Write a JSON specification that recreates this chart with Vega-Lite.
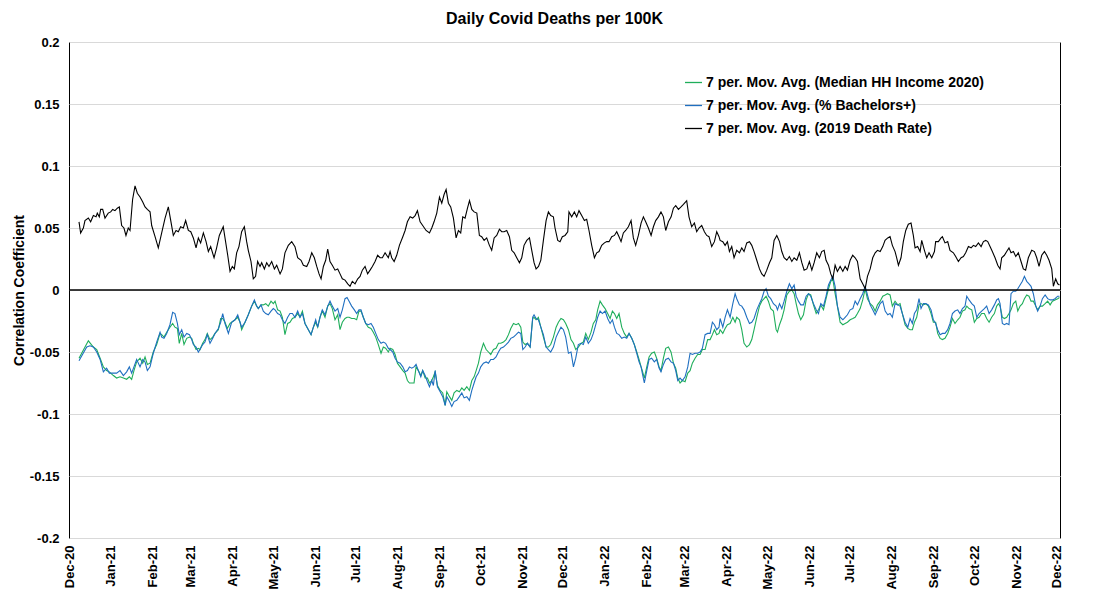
{
"$schema": "https://vega.github.io/schema/vega-lite/v6.json",
"width": 991, "height": 496,
"autosize": {"type": "none"},
"padding": {"left": 69, "top": 42, "right": 51, "bottom": 56},
"background": "white",
"title": {"text": "Daily Covid Deaths per 100K", "fontSize": 16, "fontWeight": "bold", "font": "Liberation Sans", "color": "black", "offset": 9, "dx": -10, "frame": "group"},
"config": {
 "font": "Liberation Sans",
 "view": {"stroke": "black", "strokeWidth": 1},
 "axis": {"labelFont": "Liberation Sans", "labelFontWeight": "bold", "labelFontSize": 13, "labelColor": "black", "titleFont": "Liberation Sans", "titleFontWeight": "bold", "titleFontSize": 14, "titleColor": "black", "domain": false, "ticks": false}
},
"datasets": {
"income": [{"day":7.4,"r":-0.055},{"day":14.3,"r":-0.041},{"day":18,"r":-0.046},{"day":20.5,"r":-0.048},{"day":23,"r":-0.055},{"day":25.4,"r":-0.062},{"day":27.8,"r":-0.065},{"day":29.8,"r":-0.066},{"day":32.8,"r":-0.069},{"day":35.2,"r":-0.071},{"day":37.7,"r":-0.07},{"day":40.2,"r":-0.071},{"day":42.6,"r":-0.072},{"day":44.6,"r":-0.07},{"day":46.3,"r":-0.072},{"day":48,"r":-0.065},{"day":50,"r":-0.058},{"day":52.5,"r":-0.055},{"day":54.5,"r":-0.059},{"day":56.2,"r":-0.054},{"day":57.9,"r":-0.06},{"day":59.9,"r":-0.059},{"day":62.3,"r":-0.05},{"day":64.8,"r":-0.044},{"day":67.3,"r":-0.035},{"day":68.5,"r":-0.036},{"day":70.2,"r":-0.038},{"day":72.2,"r":-0.034},{"day":74.6,"r":-0.03},{"day":76.6,"r":-0.027},{"day":78.3,"r":-0.03},{"day":80.1,"r":-0.031},{"day":81.5,"r":-0.043},{"day":83.3,"r":-0.035},{"day":85,"r":-0.044},{"day":87,"r":-0.039},{"day":89,"r":-0.038},{"day":90.7,"r":-0.039},{"day":91.9,"r":-0.043},{"day":93.9,"r":-0.048},{"day":95.6,"r":-0.047},{"day":96.8,"r":-0.048},{"day":98.8,"r":-0.043},{"day":100.5,"r":-0.04},{"day":102.2,"r":-0.035},{"day":104.2,"r":-0.04},{"day":106.2,"r":-0.038},{"day":107.9,"r":-0.035},{"day":110.4,"r":-0.032},{"day":112.1,"r":-0.023},{"day":113.6,"r":-0.023},{"day":115.3,"r":-0.026},{"day":117,"r":-0.031},{"day":119,"r":-0.027},{"day":120.2,"r":-0.026},{"day":122.7,"r":-0.024},{"day":124.7,"r":-0.022},{"day":126.4,"r":-0.026},{"day":127.6,"r":-0.032},{"day":130.1,"r":-0.026},{"day":132.5,"r":-0.02},{"day":135,"r":-0.013},{"day":137,"r":-0.009},{"day":138.7,"r":-0.013},{"day":139.9,"r":-0.015},{"day":141.9,"r":-0.012},{"day":143.6,"r":-0.012},{"day":145.4,"r":-0.011},{"day":147.3,"r":-0.013},{"day":149.3,"r":-0.009},{"day":151,"r":-0.011},{"day":152.3,"r":-0.009},{"day":154.2,"r":-0.016},{"day":156,"r":-0.017},{"day":157.7,"r":-0.022},{"day":159.6,"r":-0.036},{"day":161.6,"r":-0.027},{"day":163.3,"r":-0.026},{"day":165.1,"r":-0.023},{"day":167,"r":-0.022},{"day":169,"r":-0.019},{"day":170.7,"r":-0.022},{"day":172.5,"r":-0.017},{"day":174.4,"r":-0.027},{"day":176.4,"r":-0.031},{"day":178.9,"r":-0.036},{"day":180.6,"r":-0.03},{"day":182.3,"r":-0.026},{"day":183.8,"r":-0.03},{"day":185.5,"r":-0.022},{"day":187.2,"r":-0.017},{"day":189.2,"r":-0.022},{"day":191.2,"r":-0.013},{"day":192.9,"r":-0.011},{"day":194.6,"r":-0.015},{"day":196.6,"r":-0.024},{"day":198.6,"r":-0.02},{"day":200.3,"r":-0.032},{"day":202,"r":-0.026},{"day":204,"r":-0.023},{"day":205.5,"r":-0.022},{"day":207,"r":-0.022},{"day":208.9,"r":-0.023},{"day":210.9,"r":-0.023},{"day":212.6,"r":-0.024},{"day":214.3,"r":-0.017},{"day":215.8,"r":-0.017},{"day":217.5,"r":-0.022},{"day":219.3,"r":-0.027},{"day":221.2,"r":-0.03},{"day":223.2,"r":-0.031},{"day":224.9,"r":-0.034},{"day":226.7,"r":-0.038},{"day":228.6,"r":-0.044},{"day":230.6,"r":-0.051},{"day":232.3,"r":-0.046},{"day":234,"r":-0.047},{"day":236,"r":-0.05},{"day":237.3,"r":-0.047},{"day":239.3,"r":-0.048},{"day":241,"r":-0.052},{"day":242.7,"r":-0.059},{"day":244.7,"r":-0.062},{"day":246.7,"r":-0.065},{"day":248.4,"r":-0.067},{"day":250.1,"r":-0.073},{"day":251.6,"r":-0.075},{"day":253.3,"r":-0.075},{"day":255,"r":-0.075},{"day":256.5,"r":-0.062},{"day":258.2,"r":-0.065},{"day":260,"r":-0.069},{"day":261.4,"r":-0.065},{"day":263.2,"r":-0.071},{"day":264.9,"r":-0.071},{"day":266.4,"r":-0.075},{"day":268.1,"r":-0.073},{"day":269.3,"r":-0.07},{"day":270.6,"r":-0.066},{"day":272.3,"r":-0.077},{"day":274.3,"r":-0.081},{"day":276.2,"r":-0.083},{"day":278,"r":-0.093},{"day":279.2,"r":-0.082},{"day":281.2,"r":-0.086},{"day":282.9,"r":-0.089},{"day":284.6,"r":-0.083},{"day":286.6,"r":-0.081},{"day":288.5,"r":-0.082},{"day":290.3,"r":-0.079},{"day":292,"r":-0.081},{"day":294,"r":-0.078},{"day":295.9,"r":-0.081},{"day":297.7,"r":-0.073},{"day":299.4,"r":-0.07},{"day":300.9,"r":-0.065},{"day":302.6,"r":-0.059},{"day":304.3,"r":-0.05},{"day":306.3,"r":-0.043},{"day":308.3,"r":-0.048},{"day":310,"r":-0.05},{"day":311.7,"r":-0.052},{"day":313.7,"r":-0.048},{"day":315.6,"r":-0.047},{"day":317.4,"r":-0.043},{"day":319.1,"r":-0.043},{"day":321.1,"r":-0.042},{"day":323,"r":-0.04},{"day":324.8,"r":-0.036},{"day":326.5,"r":-0.031},{"day":328.5,"r":-0.027},{"day":330.4,"r":-0.028},{"day":332.2,"r":-0.027},{"day":333.9,"r":-0.03},{"day":335.4,"r":-0.042},{"day":337.1,"r":-0.044},{"day":338.8,"r":-0.043},{"day":340.8,"r":-0.046},{"day":342.7,"r":-0.023},{"day":343.7,"r":-0.022},{"day":345.2,"r":-0.024},{"day":346.9,"r":-0.022},{"day":348.7,"r":-0.03},{"day":350.6,"r":-0.038},{"day":352.6,"r":-0.046},{"day":354.3,"r":-0.046},{"day":356,"r":-0.044},{"day":358,"r":-0.038},{"day":360,"r":-0.03},{"day":361.7,"r":-0.026},{"day":363.6,"r":-0.023},{"day":365.4,"r":-0.024},{"day":367.1,"r":-0.027},{"day":369.1,"r":-0.032},{"day":371,"r":-0.04},{"day":372.8,"r":-0.043},{"day":374.5,"r":-0.048},{"day":376.4,"r":-0.046},{"day":378.4,"r":-0.043},{"day":380.1,"r":-0.042},{"day":381.9,"r":-0.035},{"day":383.8,"r":-0.04},{"day":385.8,"r":-0.034},{"day":387.5,"r":-0.027},{"day":389.3,"r":-0.024},{"day":390.7,"r":-0.016},{"day":392.5,"r":-0.009},{"day":394.2,"r":-0.012},{"day":396.2,"r":-0.015},{"day":398.1,"r":-0.019},{"day":399.9,"r":-0.023},{"day":401.6,"r":-0.017},{"day":403.1,"r":-0.019},{"day":404.8,"r":-0.023},{"day":406.5,"r":-0.019},{"day":408.5,"r":-0.03},{"day":410.4,"r":-0.035},{"day":412.2,"r":-0.038},{"day":413.9,"r":-0.035},{"day":415.9,"r":-0.039},{"day":417.8,"r":-0.044},{"day":419.6,"r":-0.05},{"day":421.3,"r":-0.056},{"day":422.8,"r":-0.062},{"day":423.7,"r":-0.065},{"day":425.2,"r":-0.071},{"day":427,"r":-0.062},{"day":428.7,"r":-0.054},{"day":430.6,"r":-0.051},{"day":432.6,"r":-0.05},{"day":434.3,"r":-0.055},{"day":436.1,"r":-0.062},{"day":437.5,"r":-0.065},{"day":439.3,"r":-0.055},{"day":441,"r":-0.047},{"day":443,"r":-0.046},{"day":444.9,"r":-0.05},{"day":446.7,"r":-0.059},{"day":448.4,"r":-0.063},{"day":449.9,"r":-0.071},{"day":451.6,"r":-0.075},{"day":453.3,"r":-0.073},{"day":455.3,"r":-0.074},{"day":457.3,"r":-0.067},{"day":459,"r":-0.065},{"day":460.7,"r":-0.059},{"day":462.7,"r":-0.055},{"day":464.6,"r":-0.052},{"day":466.4,"r":-0.052},{"day":468.1,"r":-0.048},{"day":470.1,"r":-0.048},{"day":472,"r":-0.04},{"day":473.8,"r":-0.04},{"day":475.5,"r":-0.036},{"day":477,"r":-0.032},{"day":478.7,"r":-0.036},{"day":480.4,"r":-0.035},{"day":481.2,"r":-0.032},{"day":483.2,"r":-0.035},{"day":484.9,"r":-0.031},{"day":486.6,"r":-0.028},{"day":488.6,"r":-0.027},{"day":490.6,"r":-0.022},{"day":492.3,"r":-0.026},{"day":493.5,"r":-0.022},{"day":495.5,"r":-0.024},{"day":497.2,"r":-0.032},{"day":498.9,"r":-0.043},{"day":500.9,"r":-0.046},{"day":502.9,"r":-0.044},{"day":504.6,"r":-0.04},{"day":506.3,"r":-0.032},{"day":508.3,"r":-0.022},{"day":510.3,"r":-0.013},{"day":512,"r":-0.009},{"day":513.7,"r":-0.007},{"day":515.2,"r":-0.005},{"day":516.9,"r":-0.009},{"day":518.6,"r":-0.015},{"day":520.6,"r":-0.017},{"day":522.6,"r":-0.032},{"day":523.6,"r":-0.034},{"day":525.1,"r":-0.028},{"day":526.8,"r":-0.023},{"day":528.5,"r":-0.016},{"day":530.5,"r":-0.004},{"day":532.4,"r":-0.001},{"day":534.2,"r":0},{"day":535.9,"r":-0.003},{"day":537.4,"r":-0.011},{"day":539.1,"r":-0.019},{"day":540.8,"r":-0.024},{"day":542.8,"r":-0.02},{"day":544.8,"r":-0.008},{"day":546.5,"r":-0.003},{"day":548.2,"r":-0.004},{"day":550.2,"r":-0.012},{"day":552.2,"r":-0.019},{"day":553.9,"r":-0.016},{"day":555.6,"r":-0.012},{"day":557.6,"r":-0.016},{"day":559.5,"r":-0.007},{"day":561.3,"r":0.001},{"day":563,"r":0.007},{"day":564.5,"r":0.009},{"day":566.2,"r":-0.003},{"day":567.9,"r":-0.013},{"day":569.9,"r":-0.026},{"day":571.9,"r":-0.028},{"day":573.6,"r":-0.027},{"day":575.3,"r":-0.026},{"day":577.3,"r":-0.024},{"day":579.3,"r":-0.023},{"day":581,"r":-0.022},{"day":582.7,"r":-0.019},{"day":584.7,"r":-0.015},{"day":586.6,"r":-0.008},{"day":588.4,"r":0.001},{"day":590.1,"r":-0.007},{"day":592.1,"r":-0.011},{"day":594,"r":-0.013},{"day":595.8,"r":-0.017},{"day":597.5,"r":-0.012},{"day":599.5,"r":-0.009},{"day":601.4,"r":-0.005},{"day":603.2,"r":-0.004},{"day":604.9,"r":-0.003},{"day":606.8,"r":-0.004},{"day":608.5,"r":-0.013},{"day":610.5,"r":-0.009},{"day":612.5,"r":-0.012},{"day":614.2,"r":-0.011},{"day":615.9,"r":-0.019},{"day":617.9,"r":-0.028},{"day":619.9,"r":-0.031},{"day":621.6,"r":-0.032},{"day":623.3,"r":-0.032},{"day":624.8,"r":-0.026},{"day":626.5,"r":-0.022},{"day":628.2,"r":-0.012},{"day":629.7,"r":-0.011},{"day":631.4,"r":-0.012},{"day":633.2,"r":-0.011},{"day":635.1,"r":-0.013},{"day":637.1,"r":-0.019},{"day":638.8,"r":-0.026},{"day":640.5,"r":-0.026},{"day":642,"r":-0.035},{"day":643.8,"r":-0.039},{"day":645.5,"r":-0.04},{"day":647.4,"r":-0.039},{"day":649.4,"r":-0.035},{"day":651.1,"r":-0.03},{"day":652.9,"r":-0.023},{"day":654.8,"r":-0.027},{"day":656.8,"r":-0.024},{"day":658.5,"r":-0.022},{"day":660.3,"r":-0.017},{"day":662.2,"r":-0.016},{"day":663.5,"r":-0.013},{"day":665.2,"r":-0.015},{"day":667.2,"r":-0.016},{"day":669.1,"r":-0.026},{"day":670.9,"r":-0.023},{"day":672.6,"r":-0.022},{"day":674.5,"r":-0.019},{"day":676.5,"r":-0.019},{"day":678.2,"r":-0.023},{"day":680,"r":-0.026},{"day":681.9,"r":-0.022},{"day":683.9,"r":-0.019},{"day":685.6,"r":-0.013},{"day":686.9,"r":-0.011},{"day":688.1,"r":-0.013},{"day":689.8,"r":-0.022},{"day":691.3,"r":-0.023},{"day":693,"r":-0.022},{"day":694.7,"r":-0.019},{"day":696.2,"r":-0.016},{"day":697.9,"r":-0.011},{"day":699.7,"r":-0.009},{"day":701.2,"r":-0.017},{"day":702.9,"r":-0.013},{"day":704.6,"r":-0.011},{"day":706.1,"r":-0.007},{"day":707.8,"r":-0.004},{"day":709.5,"r":-0.005},{"day":711,"r":-0.009},{"day":712.7,"r":-0.009},{"day":714.5,"r":-0.013},{"day":715.9,"r":-0.016},{"day":717.7,"r":-0.013},{"day":719.4,"r":-0.013},{"day":721.4,"r":-0.011},{"day":723.3,"r":-0.009},{"day":725.1,"r":-0.012},{"day":726.8,"r":-0.009},{"day":728.7,"r":-0.008},{"day":730.7,"r":-0.007},{"day":732,"r":-0.006}],
"bach": [{"day":7.4,"r":-0.057},{"day":13.1,"r":-0.046},{"day":15.5,"r":-0.045},{"day":18,"r":-0.046},{"day":20.5,"r":-0.05},{"day":23,"r":-0.056},{"day":25.4,"r":-0.066},{"day":27.8,"r":-0.063},{"day":29.8,"r":-0.067},{"day":32.8,"r":-0.067},{"day":35.2,"r":-0.067},{"day":37.7,"r":-0.065},{"day":40.2,"r":-0.069},{"day":42.6,"r":-0.066},{"day":44.6,"r":-0.062},{"day":46.3,"r":-0.067},{"day":48,"r":-0.062},{"day":50,"r":-0.056},{"day":52.5,"r":-0.062},{"day":54.5,"r":-0.056},{"day":56.2,"r":-0.058},{"day":57.9,"r":-0.065},{"day":59.9,"r":-0.062},{"day":62.3,"r":-0.051},{"day":64.8,"r":-0.042},{"day":67.3,"r":-0.034},{"day":68.5,"r":-0.038},{"day":70.2,"r":-0.039},{"day":72.2,"r":-0.035},{"day":74.6,"r":-0.028},{"day":76.6,"r":-0.018},{"day":78.3,"r":-0.019},{"day":80.1,"r":-0.027},{"day":81.5,"r":-0.036},{"day":83.3,"r":-0.032},{"day":85,"r":-0.038},{"day":87,"r":-0.035},{"day":89,"r":-0.036},{"day":90.7,"r":-0.04},{"day":91.9,"r":-0.044},{"day":93.9,"r":-0.046},{"day":95.6,"r":-0.05},{"day":96.8,"r":-0.048},{"day":98.8,"r":-0.044},{"day":100.5,"r":-0.042},{"day":102.2,"r":-0.036},{"day":104.2,"r":-0.043},{"day":106.2,"r":-0.039},{"day":107.9,"r":-0.035},{"day":110.4,"r":-0.031},{"day":112.1,"r":-0.026},{"day":113.6,"r":-0.019},{"day":115.3,"r":-0.027},{"day":117.8,"r":-0.035},{"day":120.2,"r":-0.026},{"day":122.7,"r":-0.024},{"day":124.7,"r":-0.02},{"day":126.4,"r":-0.026},{"day":127.6,"r":-0.03},{"day":130.1,"r":-0.026},{"day":132.5,"r":-0.02},{"day":135,"r":-0.013},{"day":137,"r":-0.008},{"day":138.7,"r":-0.013},{"day":139.9,"r":-0.015},{"day":141.9,"r":-0.012},{"day":143.6,"r":-0.017},{"day":145.4,"r":-0.019},{"day":147.3,"r":-0.02},{"day":149.3,"r":-0.017},{"day":151,"r":-0.015},{"day":152.3,"r":-0.016},{"day":154.2,"r":-0.019},{"day":156,"r":-0.02},{"day":157.7,"r":-0.024},{"day":159.6,"r":-0.027},{"day":161.6,"r":-0.022},{"day":163.3,"r":-0.019},{"day":165.1,"r":-0.019},{"day":167,"r":-0.022},{"day":169,"r":-0.017},{"day":170.7,"r":-0.022},{"day":172.5,"r":-0.019},{"day":174.4,"r":-0.027},{"day":176.4,"r":-0.031},{"day":178.9,"r":-0.036},{"day":180.6,"r":-0.03},{"day":182.3,"r":-0.024},{"day":183.8,"r":-0.03},{"day":185.5,"r":-0.022},{"day":187.2,"r":-0.016},{"day":189.2,"r":-0.02},{"day":191.2,"r":-0.013},{"day":192.9,"r":-0.009},{"day":194.6,"r":-0.013},{"day":196.6,"r":-0.017},{"day":198.6,"r":-0.015},{"day":200.3,"r":-0.022},{"day":202,"r":-0.016},{"day":204,"r":-0.007},{"day":205.5,"r":-0.006},{"day":207,"r":-0.009},{"day":208.9,"r":-0.013},{"day":210.9,"r":-0.016},{"day":212.6,"r":-0.019},{"day":214.3,"r":-0.016},{"day":215.8,"r":-0.016},{"day":217.5,"r":-0.022},{"day":219.3,"r":-0.027},{"day":221.2,"r":-0.028},{"day":223.2,"r":-0.027},{"day":224.9,"r":-0.03},{"day":226.7,"r":-0.035},{"day":228.6,"r":-0.04},{"day":230.6,"r":-0.043},{"day":232.3,"r":-0.042},{"day":234,"r":-0.043},{"day":236,"r":-0.047},{"day":237.3,"r":-0.048},{"day":239.3,"r":-0.05},{"day":241,"r":-0.055},{"day":242.7,"r":-0.058},{"day":244.7,"r":-0.059},{"day":246.7,"r":-0.062},{"day":248.4,"r":-0.066},{"day":250.1,"r":-0.065},{"day":251.6,"r":-0.062},{"day":253.3,"r":-0.063},{"day":255,"r":-0.062},{"day":256.5,"r":-0.06},{"day":258.2,"r":-0.065},{"day":260,"r":-0.07},{"day":261.4,"r":-0.065},{"day":263.2,"r":-0.069},{"day":264.9,"r":-0.074},{"day":266.4,"r":-0.078},{"day":268.1,"r":-0.073},{"day":269.3,"r":-0.077},{"day":270.6,"r":-0.065},{"day":272.3,"r":-0.078},{"day":274.3,"r":-0.082},{"day":276.2,"r":-0.086},{"day":278,"r":-0.093},{"day":279.2,"r":-0.086},{"day":281.2,"r":-0.09},{"day":282.9,"r":-0.094},{"day":284.6,"r":-0.09},{"day":286.6,"r":-0.089},{"day":288.5,"r":-0.086},{"day":290.3,"r":-0.083},{"day":292,"r":-0.087},{"day":294,"r":-0.086},{"day":295.9,"r":-0.089},{"day":297.7,"r":-0.081},{"day":299.4,"r":-0.075},{"day":300.9,"r":-0.07},{"day":302.6,"r":-0.067},{"day":304.3,"r":-0.062},{"day":306.3,"r":-0.059},{"day":308.3,"r":-0.058},{"day":310,"r":-0.059},{"day":311.7,"r":-0.056},{"day":313.7,"r":-0.056},{"day":315.6,"r":-0.054},{"day":317.4,"r":-0.05},{"day":319.1,"r":-0.047},{"day":321.1,"r":-0.046},{"day":323,"r":-0.044},{"day":324.8,"r":-0.042},{"day":326.5,"r":-0.039},{"day":328.5,"r":-0.038},{"day":330.4,"r":-0.036},{"day":332.2,"r":-0.034},{"day":333.9,"r":-0.035},{"day":335.4,"r":-0.048},{"day":337.1,"r":-0.046},{"day":338.8,"r":-0.043},{"day":340.8,"r":-0.046},{"day":342.7,"r":-0.022},{"day":343.7,"r":-0.02},{"day":345.2,"r":-0.023},{"day":346.9,"r":-0.024},{"day":348.7,"r":-0.03},{"day":350.6,"r":-0.036},{"day":352.6,"r":-0.046},{"day":354.3,"r":-0.048},{"day":356,"r":-0.05},{"day":358,"r":-0.046},{"day":360,"r":-0.038},{"day":361.7,"r":-0.034},{"day":363.6,"r":-0.03},{"day":365.4,"r":-0.032},{"day":367.1,"r":-0.038},{"day":369.1,"r":-0.051},{"day":371,"r":-0.05},{"day":372.8,"r":-0.062},{"day":374.5,"r":-0.055},{"day":376.4,"r":-0.044},{"day":378.4,"r":-0.043},{"day":380.1,"r":-0.044},{"day":381.9,"r":-0.038},{"day":383.8,"r":-0.043},{"day":385.8,"r":-0.04},{"day":387.5,"r":-0.035},{"day":389.3,"r":-0.028},{"day":390.7,"r":-0.022},{"day":392.5,"r":-0.017},{"day":394.2,"r":-0.019},{"day":396.2,"r":-0.017},{"day":398.1,"r":-0.023},{"day":399.9,"r":-0.027},{"day":401.6,"r":-0.024},{"day":403.1,"r":-0.03},{"day":404.8,"r":-0.035},{"day":406.5,"r":-0.036},{"day":408.5,"r":-0.039},{"day":410.4,"r":-0.038},{"day":412.2,"r":-0.039},{"day":413.9,"r":-0.035},{"day":415.9,"r":-0.039},{"day":417.8,"r":-0.044},{"day":419.6,"r":-0.051},{"day":421.3,"r":-0.058},{"day":422.8,"r":-0.062},{"day":423.7,"r":-0.067},{"day":425.2,"r":-0.075},{"day":427,"r":-0.065},{"day":428.7,"r":-0.056},{"day":430.6,"r":-0.055},{"day":432.6,"r":-0.058},{"day":434.3,"r":-0.056},{"day":436.1,"r":-0.063},{"day":437.5,"r":-0.066},{"day":439.3,"r":-0.06},{"day":441,"r":-0.056},{"day":443,"r":-0.055},{"day":444.9,"r":-0.058},{"day":446.7,"r":-0.059},{"day":448.4,"r":-0.065},{"day":449.9,"r":-0.073},{"day":451.6,"r":-0.071},{"day":453.3,"r":-0.073},{"day":455.3,"r":-0.07},{"day":457.3,"r":-0.062},{"day":459,"r":-0.051},{"day":460.7,"r":-0.052},{"day":462.7,"r":-0.051},{"day":464.6,"r":-0.051},{"day":466.4,"r":-0.05},{"day":468.1,"r":-0.047},{"day":470.1,"r":-0.036},{"day":472,"r":-0.035},{"day":473.8,"r":-0.035},{"day":475.5,"r":-0.026},{"day":477,"r":-0.028},{"day":478.7,"r":-0.032},{"day":480.4,"r":-0.03},{"day":481.2,"r":-0.023},{"day":483.2,"r":-0.03},{"day":484.9,"r":-0.022},{"day":486.6,"r":-0.016},{"day":488.6,"r":-0.022},{"day":490.6,"r":-0.011},{"day":492.3,"r":-0.003},{"day":493.5,"r":-0.007},{"day":495.5,"r":-0.012},{"day":497.2,"r":-0.013},{"day":498.9,"r":-0.016},{"day":500.9,"r":-0.022},{"day":502.9,"r":-0.027},{"day":504.6,"r":-0.026},{"day":506.3,"r":-0.023},{"day":508.3,"r":-0.016},{"day":510.3,"r":-0.011},{"day":512,"r":-0.007},{"day":513.7,"r":-0.001},{"day":515.2,"r":0.001},{"day":516.9,"r":-0.005},{"day":518.6,"r":-0.007},{"day":520.6,"r":-0.011},{"day":522.6,"r":-0.013},{"day":523.6,"r":-0.016},{"day":525.1,"r":-0.011},{"day":526.8,"r":-0.015},{"day":528.5,"r":-0.009},{"day":530.5,"r":-0.001},{"day":532.4,"r":0.005},{"day":534.2,"r":0.001},{"day":535.9,"r":0.004},{"day":537.4,"r":-0.005},{"day":539.1,"r":-0.009},{"day":540.8,"r":-0.012},{"day":542.8,"r":-0.012},{"day":544.8,"r":-0.005},{"day":546.5,"r":-0.003},{"day":548.2,"r":-0.005},{"day":550.2,"r":-0.011},{"day":552.2,"r":-0.016},{"day":553.9,"r":-0.019},{"day":555.6,"r":-0.011},{"day":557.6,"r":-0.013},{"day":559.5,"r":-0.005},{"day":561.3,"r":0.004},{"day":563,"r":0.008},{"day":564.5,"r":0.011},{"day":566.2,"r":0.003},{"day":567.9,"r":-0.013},{"day":569.9,"r":-0.022},{"day":571.9,"r":-0.024},{"day":573.6,"r":-0.022},{"day":575.3,"r":-0.02},{"day":577.3,"r":-0.016},{"day":579.3,"r":-0.015},{"day":581,"r":-0.009},{"day":582.7,"r":-0.012},{"day":584.7,"r":-0.007},{"day":586.6,"r":-0.003},{"day":588.4,"r":0.003},{"day":590.1,"r":-0.004},{"day":592.1,"r":-0.012},{"day":594,"r":-0.016},{"day":595.8,"r":-0.02},{"day":597.5,"r":-0.016},{"day":599.5,"r":-0.011},{"day":601.4,"r":-0.009},{"day":603.2,"r":-0.017},{"day":605.1,"r":-0.02},{"day":606.8,"r":-0.019},{"day":608.5,"r":-0.022},{"day":610.5,"r":-0.011},{"day":612.5,"r":-0.012},{"day":614.2,"r":-0.013},{"day":615.9,"r":-0.019},{"day":617.9,"r":-0.026},{"day":619.9,"r":-0.03},{"day":621.6,"r":-0.023},{"day":623.3,"r":-0.027},{"day":624.8,"r":-0.019},{"day":626.5,"r":-0.016},{"day":628.2,"r":-0.007},{"day":629.7,"r":-0.015},{"day":631.4,"r":-0.011},{"day":633.2,"r":-0.011},{"day":635.1,"r":-0.012},{"day":637.1,"r":-0.016},{"day":638.8,"r":-0.024},{"day":640.5,"r":-0.027},{"day":642,"r":-0.032},{"day":643.8,"r":-0.036},{"day":645.5,"r":-0.035},{"day":647.4,"r":-0.035},{"day":649.4,"r":-0.032},{"day":651.1,"r":-0.027},{"day":652.9,"r":-0.019},{"day":654.8,"r":-0.017},{"day":656.8,"r":-0.016},{"day":658.5,"r":-0.019},{"day":660.3,"r":-0.015},{"day":662.2,"r":-0.013},{"day":663.5,"r":-0.005},{"day":665.2,"r":-0.008},{"day":667.2,"r":-0.011},{"day":669.1,"r":-0.013},{"day":670.9,"r":-0.022},{"day":672.6,"r":-0.019},{"day":674.5,"r":-0.017},{"day":676.5,"r":-0.015},{"day":678.2,"r":-0.013},{"day":680,"r":-0.019},{"day":681.9,"r":-0.016},{"day":683.9,"r":-0.012},{"day":685.6,"r":-0.008},{"day":686.9,"r":-0.007},{"day":688.1,"r":-0.011},{"day":689.8,"r":-0.027},{"day":691.3,"r":-0.028},{"day":693,"r":-0.027},{"day":694.7,"r":-0.028},{"day":696.2,"r":-0.003},{"day":697.9,"r":-0.001},{"day":699.7,"r":-0.001},{"day":701.2,"r":0.001},{"day":702.9,"r":0.004},{"day":704.6,"r":0.007},{"day":706.1,"r":0.011},{"day":707.8,"r":0.007},{"day":709.5,"r":0.005},{"day":711,"r":0.003},{"day":712.7,"r":-0.003},{"day":714.5,"r":-0.013},{"day":715.9,"r":-0.017},{"day":717.7,"r":-0.013},{"day":719.4,"r":-0.007},{"day":721.4,"r":-0.004},{"day":723.3,"r":-0.007},{"day":725.1,"r":-0.008},{"day":726.8,"r":-0.008},{"day":728.7,"r":-0.007},{"day":730.7,"r":-0.005},{"day":732,"r":-0.005}],
"death": [{"day":7.4,"r":0.055},{"day":8.6,"r":0.046},{"day":10.6,"r":0.05},{"day":11.8,"r":0.056},{"day":14.3,"r":0.058},{"day":16,"r":0.055},{"day":18,"r":0.06},{"day":20,"r":0.059},{"day":20.9,"r":0.062},{"day":22.4,"r":0.059},{"day":23.4,"r":0.065},{"day":24.9,"r":0.065},{"day":26.6,"r":0.058},{"day":29,"r":0.062},{"day":30.8,"r":0.063},{"day":32.3,"r":0.065},{"day":34,"r":0.064},{"day":35.7,"r":0.066},{"day":37.2,"r":0.067},{"day":38.9,"r":0.052},{"day":40.6,"r":0.05},{"day":42.1,"r":0.044},{"day":43.8,"r":0.05},{"day":45.1,"r":0.048},{"day":47,"r":0.073},{"day":48.8,"r":0.084},{"day":50.5,"r":0.078},{"day":52.5,"r":0.075},{"day":54.5,"r":0.071},{"day":56.2,"r":0.067},{"day":57.9,"r":0.065},{"day":59.9,"r":0.063},{"day":61.1,"r":0.052},{"day":63.6,"r":0.043},{"day":66,"r":0.034},{"day":68.5,"r":0.046},{"day":71,"r":0.058},{"day":73.4,"r":0.067},{"day":75.2,"r":0.056},{"day":77.1,"r":0.044},{"day":79.1,"r":0.048},{"day":80.8,"r":0.047},{"day":82.5,"r":0.051},{"day":84.5,"r":0.05},{"day":86.2,"r":0.056},{"day":88.2,"r":0.048},{"day":90,"r":0.047},{"day":91.9,"r":0.042},{"day":93.9,"r":0.034},{"day":95.6,"r":0.042},{"day":97.3,"r":0.038},{"day":99.3,"r":0.046},{"day":101.3,"r":0.039},{"day":103,"r":0.031},{"day":104.7,"r":0.035},{"day":107.2,"r":0.026},{"day":109.1,"r":0.034},{"day":111.1,"r":0.044},{"day":114,"r":0.051},{"day":117.3,"r":0.028},{"day":119,"r":0.015},{"day":120.7,"r":0.019},{"day":122.2,"r":0.017},{"day":123.9,"r":0.03},{"day":125.6,"r":0.035},{"day":127.6,"r":0.047},{"day":129.6,"r":0.051},{"day":131.3,"r":0.039},{"day":132.5,"r":0.032},{"day":134.5,"r":0.023},{"day":136.2,"r":0.009},{"day":137.9,"r":0.011},{"day":139.4,"r":0.023},{"day":141.2,"r":0.019},{"day":142.4,"r":0.022},{"day":144.4,"r":0.017},{"day":146.1,"r":0.022},{"day":147.8,"r":0.019},{"day":149.8,"r":0.023},{"day":151.8,"r":0.017},{"day":153.5,"r":0.02},{"day":156,"r":0.013},{"day":157.7,"r":0.017},{"day":159.6,"r":0.03},{"day":162.1,"r":0.036},{"day":164.6,"r":0.039},{"day":167,"r":0.035},{"day":169,"r":0.026},{"day":171.5,"r":0.024},{"day":173.2,"r":0.02},{"day":175.7,"r":0.019},{"day":177.4,"r":0.023},{"day":179.4,"r":0.03},{"day":181.3,"r":0.026},{"day":183.1,"r":0.019},{"day":184.8,"r":0.013},{"day":186.3,"r":0.009},{"day":188,"r":0.019},{"day":189.7,"r":0.024},{"day":191.2,"r":0.033},{"day":192.9,"r":0.023},{"day":194.6,"r":0.02},{"day":196.6,"r":0.016},{"day":198.6,"r":0.017},{"day":200.3,"r":0.013},{"day":202,"r":0.009},{"day":204,"r":0.008},{"day":206,"r":0.005},{"day":207.7,"r":0.003},{"day":209.4,"r":0.007},{"day":211.4,"r":0.005},{"day":213.4,"r":0.009},{"day":215.1,"r":0.011},{"day":216.8,"r":0.016},{"day":218.8,"r":0.019},{"day":220.7,"r":0.013},{"day":222.5,"r":0.016},{"day":224.2,"r":0.019},{"day":226.2,"r":0.023},{"day":228.1,"r":0.028},{"day":229.9,"r":0.026},{"day":231.6,"r":0.026},{"day":233.6,"r":0.03},{"day":236,"r":0.026},{"day":237.3,"r":0.031},{"day":238.5,"r":0.026},{"day":240.3,"r":0.023},{"day":242.2,"r":0.028},{"day":244.2,"r":0.036},{"day":246.7,"r":0.043},{"day":248.4,"r":0.048},{"day":250.1,"r":0.055},{"day":252.1,"r":0.059},{"day":254,"r":0.058},{"day":255.8,"r":0.06},{"day":257.5,"r":0.064},{"day":259.5,"r":0.055},{"day":261.4,"r":0.052},{"day":263.9,"r":0.048},{"day":266.4,"r":0.046},{"day":268.1,"r":0.05},{"day":269.8,"r":0.055},{"day":271.8,"r":0.062},{"day":273.8,"r":0.075},{"day":275.5,"r":0.07},{"day":277.2,"r":0.077},{"day":278.7,"r":0.081},{"day":280.4,"r":0.07},{"day":282.1,"r":0.067},{"day":284.1,"r":0.058},{"day":286.1,"r":0.042},{"day":287.8,"r":0.048},{"day":289.5,"r":0.046},{"day":291,"r":0.059},{"day":292.7,"r":0.058},{"day":294.5,"r":0.066},{"day":296,"r":0.072},{"day":297.7,"r":0.065},{"day":299.4,"r":0.063},{"day":301.4,"r":0.062},{"day":303.3,"r":0.044},{"day":305,"r":0.043},{"day":306.8,"r":0.04},{"day":308.7,"r":0.042},{"day":310.7,"r":0.036},{"day":312.4,"r":0.032},{"day":314.2,"r":0.042},{"day":316.1,"r":0.044},{"day":318.1,"r":0.049},{"day":319.8,"r":0.047},{"day":321.6,"r":0.047},{"day":323.5,"r":0.048},{"day":325.5,"r":0.043},{"day":327.2,"r":0.032},{"day":329,"r":0.03},{"day":330.9,"r":0.026},{"day":332.9,"r":0.022},{"day":334.6,"r":0.026},{"day":336.3,"r":0.036},{"day":338.3,"r":0.04},{"day":340.3,"r":0.042},{"day":342,"r":0.032},{"day":343.7,"r":0.022},{"day":345.2,"r":0.017},{"day":347,"r":0.019},{"day":348.7,"r":0.024},{"day":350.6,"r":0.04},{"day":352.6,"r":0.056},{"day":354.3,"r":0.063},{"day":356,"r":0.06},{"day":358,"r":0.059},{"day":359.2,"r":0.05},{"day":361.2,"r":0.04},{"day":362.9,"r":0.039},{"day":364.6,"r":0.043},{"day":366.6,"r":0.044},{"day":368.6,"r":0.047},{"day":369.5,"r":0.063},{"day":371.5,"r":0.059},{"day":373.5,"r":0.063},{"day":375.2,"r":0.059},{"day":376.9,"r":0.064},{"day":378.9,"r":0.06},{"day":380.9,"r":0.056},{"day":382.6,"r":0.057},{"day":384.3,"r":0.048},{"day":386.3,"r":0.036},{"day":388.3,"r":0.026},{"day":390,"r":0.03},{"day":391.7,"r":0.031},{"day":393.7,"r":0.036},{"day":395.7,"r":0.038},{"day":397.4,"r":0.039},{"day":399.1,"r":0.039},{"day":401.1,"r":0.043},{"day":403.1,"r":0.044},{"day":404.8,"r":0.047},{"day":406.5,"r":0.043},{"day":408,"r":0.039},{"day":409.7,"r":0.046},{"day":411.4,"r":0.048},{"day":413.4,"r":0.051},{"day":415.4,"r":0.056},{"day":417.1,"r":0.042},{"day":418.8,"r":0.036},{"day":420.8,"r":0.044},{"day":422.8,"r":0.054},{"day":424.5,"r":0.059},{"day":426.2,"r":0.055},{"day":428.2,"r":0.05},{"day":430.2,"r":0.044},{"day":431.9,"r":0.051},{"day":433.6,"r":0.056},{"day":435.6,"r":0.059},{"day":437.5,"r":0.063},{"day":439.3,"r":0.059},{"day":441,"r":0.048},{"day":443,"r":0.055},{"day":445,"r":0.059},{"day":446.7,"r":0.066},{"day":448.4,"r":0.068},{"day":450.4,"r":0.065},{"day":452.3,"r":0.067},{"day":454.1,"r":0.069},{"day":456.5,"r":0.072},{"day":458.2,"r":0.059},{"day":460.2,"r":0.051},{"day":462.2,"r":0.054},{"day":463.9,"r":0.047},{"day":465.6,"r":0.05},{"day":467.6,"r":0.052},{"day":469.6,"r":0.047},{"day":471.3,"r":0.044},{"day":473,"r":0.043},{"day":475,"r":0.035},{"day":477,"r":0.039},{"day":478.7,"r":0.047},{"day":480.4,"r":0.043},{"day":481.2,"r":0.04},{"day":483.2,"r":0.039},{"day":484.9,"r":0.036},{"day":486.6,"r":0.039},{"day":488.1,"r":0.031},{"day":489.8,"r":0.035},{"day":491.5,"r":0.026},{"day":493.5,"r":0.032},{"day":495.5,"r":0.03},{"day":497.2,"r":0.034},{"day":498.9,"r":0.031},{"day":500.9,"r":0.038},{"day":502.9,"r":0.039},{"day":504.6,"r":0.036},{"day":506.3,"r":0.031},{"day":508.3,"r":0.024},{"day":510.3,"r":0.017},{"day":512,"r":0.013},{"day":513.7,"r":0.011},{"day":515.7,"r":0.016},{"day":517.7,"r":0.022},{"day":519.4,"r":0.026},{"day":521.1,"r":0.04},{"day":523.1,"r":0.044},{"day":525.1,"r":0.039},{"day":526.8,"r":0.031},{"day":528.5,"r":0.026},{"day":530.5,"r":0.024},{"day":532.4,"r":0.027},{"day":534.2,"r":0.023},{"day":535.9,"r":0.026},{"day":537.9,"r":0.024},{"day":539.8,"r":0.03},{"day":541.6,"r":0.022},{"day":543.3,"r":0.016},{"day":545.3,"r":0.017},{"day":547.2,"r":0.023},{"day":549,"r":0.016},{"day":550.7,"r":0.022},{"day":552.6,"r":0.03},{"day":554.6,"r":0.026},{"day":556.3,"r":0.031},{"day":558.1,"r":0.032},{"day":559.5,"r":0.024},{"day":561.3,"r":0.02},{"day":563,"r":0.013},{"day":564.5,"r":0.009},{"day":566.2,"r":0.02},{"day":567.9,"r":0.015},{"day":569.9,"r":0.019},{"day":571.9,"r":0.015},{"day":573.6,"r":0.019},{"day":575.3,"r":0.016},{"day":577.3,"r":0.024},{"day":579.2,"r":0.028},{"day":581,"r":0.026},{"day":582.7,"r":0.023},{"day":584.7,"r":0.009},{"day":586.6,"r":0.005},{"day":588.4,"r":0.001},{"day":590.1,"r":0.011},{"day":592.1,"r":0.017},{"day":594,"r":0.026},{"day":595.8,"r":0.03},{"day":597.5,"r":0.032},{"day":599.5,"r":0.031},{"day":601.4,"r":0.035},{"day":603.1,"r":0.04},{"day":605.1,"r":0.042},{"day":606.8,"r":0.043},{"day":608.5,"r":0.036},{"day":610.5,"r":0.031},{"day":611.7,"r":0.026},{"day":613,"r":0.02},{"day":614.9,"r":0.026},{"day":616.6,"r":0.039},{"day":618.4,"r":0.048},{"day":620.3,"r":0.053},{"day":622.3,"r":0.054},{"day":624,"r":0.044},{"day":625.3,"r":0.034},{"day":627.2,"r":0.035},{"day":629,"r":0.031},{"day":630.2,"r":0.04},{"day":632.2,"r":0.032},{"day":633.9,"r":0.026},{"day":635.6,"r":0.03},{"day":637.6,"r":0.026},{"day":639.6,"r":0.031},{"day":640.5,"r":0.039},{"day":642.5,"r":0.039},{"day":644.5,"r":0.042},{"day":645.5,"r":0.043},{"day":647.4,"r":0.038},{"day":649.4,"r":0.039},{"day":651.1,"r":0.032},{"day":653.6,"r":0.03},{"day":655.3,"r":0.027},{"day":657.3,"r":0.023},{"day":659.3,"r":0.026},{"day":661,"r":0.027},{"day":662.7,"r":0.03},{"day":664.7,"r":0.035},{"day":666.7,"r":0.034},{"day":668.4,"r":0.036},{"day":670.1,"r":0.035},{"day":672.1,"r":0.038},{"day":674.1,"r":0.035},{"day":675.8,"r":0.039},{"day":677.5,"r":0.04},{"day":679,"r":0.039},{"day":680.7,"r":0.035},{"day":682.4,"r":0.031},{"day":684.4,"r":0.026},{"day":686.4,"r":0.02},{"day":688.1,"r":0.017},{"day":689.3,"r":0.026},{"day":691.3,"r":0.028},{"day":693,"r":0.031},{"day":694.7,"r":0.034},{"day":696.2,"r":0.03},{"day":698,"r":0.031},{"day":699.7,"r":0.027},{"day":701.6,"r":0.03},{"day":703.6,"r":0.023},{"day":705.3,"r":0.017},{"day":707,"r":0.016},{"day":709,"r":0.026},{"day":711.5,"r":0.032},{"day":713.5,"r":0.031},{"day":715.2,"r":0.026},{"day":716.9,"r":0.019},{"day":718.9,"r":0.028},{"day":720.9,"r":0.031},{"day":722.6,"r":0.028},{"day":724.3,"r":0.024},{"day":726.3,"r":0.017},{"day":727.5,"r":0.003},{"day":729.2,"r":0.009},{"day":730.7,"r":0.005},{"day":732,"r":0.004}]
},
"layer": [
 {"data": {"name": "income"}, "mark": {"type": "line", "strokeWidth": 1.1, "interpolate": "linear"},
  "encoding": {
   "x": {"field": "day", "type": "quantitative", "scale": {"domain": [0, 732.4], "nice": false, "zero": false},
         "axis": {"title": null, "values": [0,31,62,90,121,151,182,212,243,274,304,335,365,396,427,455,486,516,547,577,608,639,669,700,730], "labelExpr": "timeFormat(datetime(2020, 11, 1 + datum.value), '%b-%y')", "labelAngle": 270, "labelAlign": "right", "labelBaseline": "middle", "labelPadding": 7, "grid": false}},
   "y": {"field": "r", "type": "quantitative", "scale": {"domain": [-0.2, 0.2], "nice": false},
         "axis": {"title": "Correlation Coefficient", "values": [-0.2,-0.15,-0.1,-0.05,0,0.05,0.1,0.15,0.2], "labelExpr": "toString(datum.value)", "labelPadding": 10, "titlePadding": 3, "grid": true, "gridColor": "#d9d9d9", "gridWidth": 1}},
   "color": {"datum": "7 per. Mov. Avg. (Median HH Income 2020)", "type": "nominal",
     "scale": {"domain": ["7 per. Mov. Avg. (Median HH Income 2020)", "7 per. Mov. Avg. (% Bachelors+)", "7 per. Mov. Avg. (2019 Death Rate)"], "range": ["#1FAE5B", "#1F6FC0", "#000000"]},
     "legend": {"title": null, "orient": "none", "legendX": 615, "legendY": 31, "symbolType": "stroke", "symbolSize": 290, "symbolStrokeWidth": 1.3, "labelFont": "Liberation Sans", "labelFontWeight": "bold", "labelFontSize": 14, "labelColor": "black", "rowPadding": 6, "labelOffset": 3, "labelLimit": 400}}
  }},
 {"data": {"name": "bach"}, "mark": {"type": "line", "strokeWidth": 1.1},
  "encoding": {"x": {"field": "day", "type": "quantitative"}, "y": {"field": "r", "type": "quantitative"},
   "color": {"datum": "7 per. Mov. Avg. (% Bachelors+)", "type": "nominal"}}},
 {"data": {"name": "death"}, "mark": {"type": "line", "strokeWidth": 1.1},
  "encoding": {"x": {"field": "day", "type": "quantitative"}, "y": {"field": "r", "type": "quantitative"},
   "color": {"datum": "7 per. Mov. Avg. (2019 Death Rate)", "type": "nominal"}}},
 {"data": {"values": [{"r": 0}]}, "mark": {"type": "rule", "color": "black", "strokeWidth": 1.5},
  "encoding": {"y": {"field": "r", "type": "quantitative"}}}
]
}
